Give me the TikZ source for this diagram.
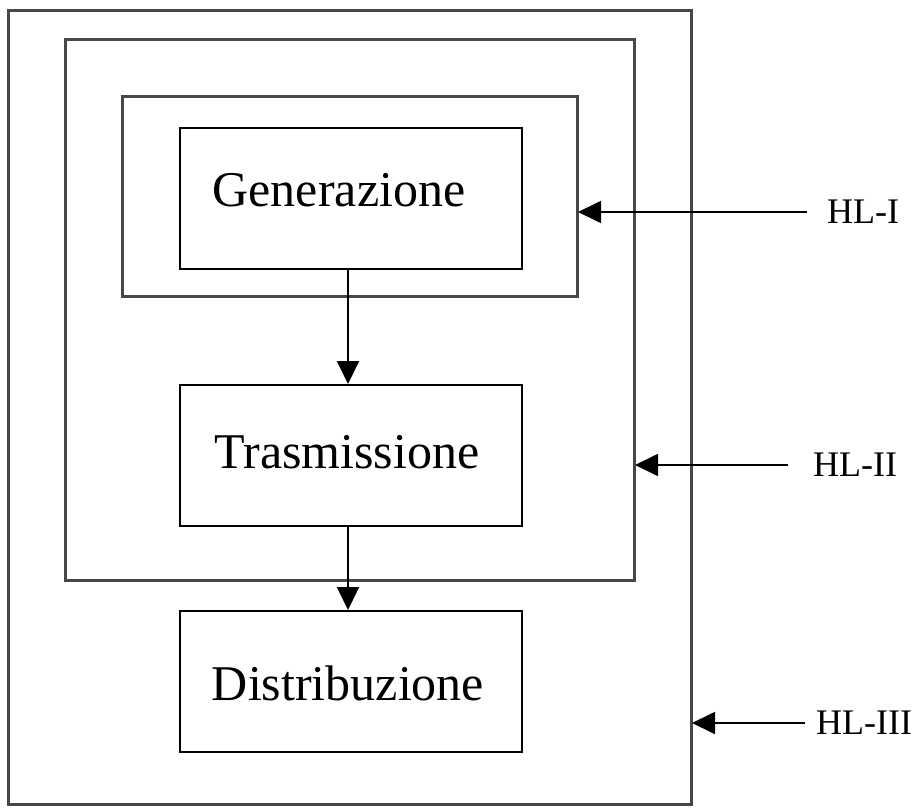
\documentclass[tikz,border=0pt]{standalone}
\usepackage{fontspec}
\setmainfont{Liberation Serif}
\usetikzlibrary{arrows.meta}
\begin{document}
\begin{tikzpicture}[x=1pt,y=-1pt,
  level/.style={draw=black!72,line width=3pt},
  stage/.style={draw,line width=1.7pt,minimum width=342pt,minimum height=141pt,anchor=north west,inner sep=0pt},
  word/.style={inner sep=0pt,font=\fontsize{50}{60}\selectfont},
  link/.style={line width=1.8pt,-{Triangle[length=23pt,width=22pt]}},
  lab/.style={anchor=west,inner sep=0pt,font=\fontsize{36}{40}\selectfont}]
\useasboundingbox (0,0) rectangle (918,810);
% nested hierarchical levels
\draw[level] (8,11) rectangle (691,804);
\draw[level] (65,40) rectangle (634,580);
\draw[level] (122,97) rectangle (577,297);
\coordinate (l3) at (692,723);
\coordinate (l2) at (635,465);
\coordinate (l1) at (578,212);
% stages of the power system
\node[stage] (gen) at (179,127) {};
\node[stage] (tra) at (179,384) {};
\node[stage] (dis) at (179,610) {};
\node[word] at (339,190) {Generazione};
\node[word] at (347,452) {Trasmissione};
\node[word] at (348,683) {Distribuzione};
\draw[link] (348,268) -- (348,384);
\draw[link] (348,525) -- (348,610);
% level labels
\node[lab] (h1) at (827,212) {HL-I};
\node[lab] (h2) at (813,465) {HL-II};
\node[lab] (h3) at (816,723) {HL-III};
\draw[link] (h1.west) ++(-20,0) -- (l1);
\draw[link] (h2.west) ++(-25,0) -- (l2);
\draw[link] (h3.west) ++(-11,0) -- (l3);
\end{tikzpicture}
\end{document}
